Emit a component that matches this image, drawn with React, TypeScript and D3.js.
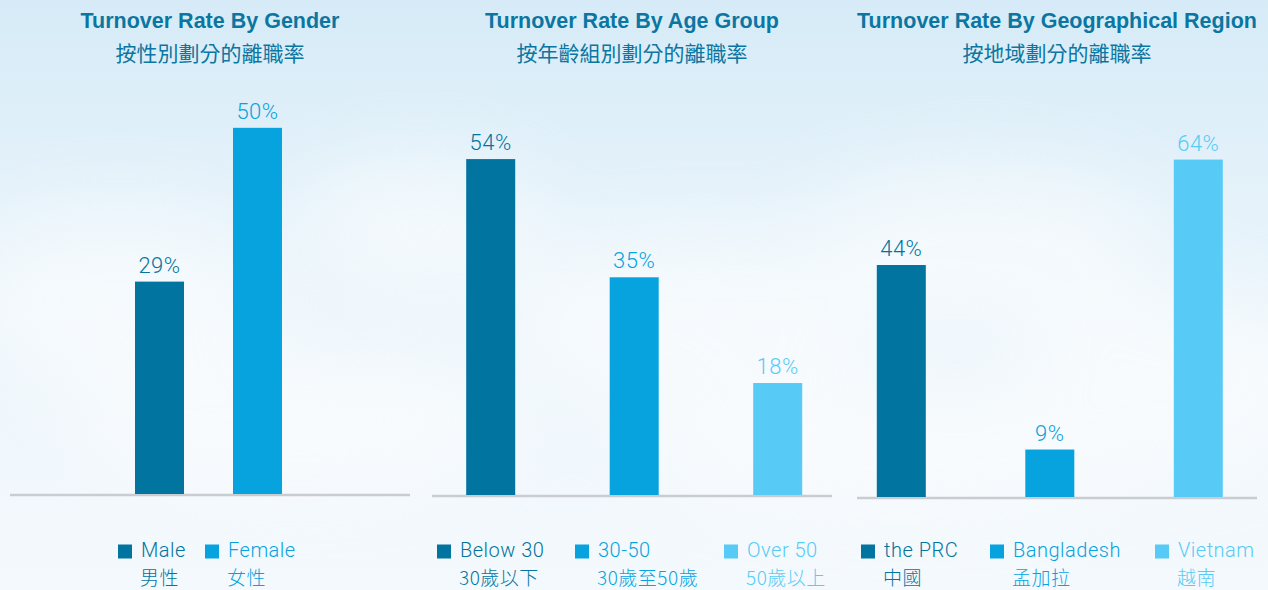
import React from "react";
import * as d3 from "d3";

const W = 1268;
const H = 590;

const COLORS = ["#0274a0", "#06a3df", "#57cbf6"];

const genderCats = ["Male", "Female"];
const genderCatsZh = ["男性", "女性"];
const genderValues = [29, 50];

const ageCats = ["Below 30", "30-50", "Over 50"];
const ageCatsZh = ["30歲以下", "30歲至50歲", "50歲以上"];
const ageValues = [54, 35, 18];

const regionCats = ["the PRC", "Bangladesh", "Vietnam"];
const regionCatsZh = ["中國", "孟加拉", "越南"];
const regionValues = [44, 9, 64];

const titlesEn = [
  "Turnover Rate By Gender",
  "Turnover Rate By Age Group",
  "Turnover Rate By Geographical Region",
];
const titlesZh = ["按性別劃分的離職率", "按年齡組別劃分的離職率", "按地域劃分的離職率"];

type Panel = {
  cats: string[];
  zh: string[];
  values: number[];
  x0: number;
  x1: number;
  baseline: number;
  yMax: number;
  pointRange: [number, number];
  legendSq: number[];
};

const panels: Panel[] = [
  {
    cats: genderCats,
    zh: genderCatsZh,
    values: genderValues,
    x0: 10,
    x1: 410,
    baseline: 494,
    yMax: 53.8,
    pointRange: [159.5, 257.5],
    legendSq: [118, 205],
  },
  {
    cats: ageCats,
    zh: ageCatsZh,
    values: ageValues,
    x0: 432,
    x1: 832,
    baseline: 495,
    yMax: 63.5,
    pointRange: [490.7, 777.7],
    legendSq: [437, 575, 724],
  },
  {
    cats: regionCats,
    zh: regionCatsZh,
    values: regionValues,
    x0: 857,
    x1: 1257,
    baseline: 497,
    yMax: 75.3,
    pointRange: [901.3, 1198.3],
    legendSq: [861, 990, 1155],
  },
];

const TOP = 100;
const BAR_W = 49;
const LATIN = "'Roboto', 'Liberation Sans', sans-serif";
const CJK = "'Noto Sans CJK TC', 'Noto Sans CJK SC', sans-serif";

const clouds = [
  { cx: 120, cy: 300, rx: 160, ry: 90 },
  { cx: 420, cy: 230, rx: 120, ry: 70 },
  { cx: 700, cy: 320, rx: 200, ry: 90 },
  { cx: 980, cy: 250, rx: 180, ry: 80 },
  { cx: 1180, cy: 380, rx: 160, ry: 90 },
  { cx: 300, cy: 420, rx: 220, ry: 70 },
  { cx: 900, cy: 450, rx: 260, ry: 60 },
];

export default function App() {
  return (
    <svg
      width={W}
      height={H}
      style={{ position: "absolute", left: 0, top: 0, display: "block" }}
    >
      <defs>
        <linearGradient id="sky" x1="0" y1="0" x2="0" y2="1">
          <stop offset="0" stopColor="#d6ebf7" />
          <stop offset="0.35" stopColor="#e5f2fa" />
          <stop offset="0.75" stopColor="#f0f7fc" />
          <stop offset="1" stopColor="#f4f9fd" />
        </linearGradient>
        <filter id="blur" x="-50%" y="-50%" width="200%" height="200%">
          <feGaussianBlur stdDeviation="40" />
        </filter>
      </defs>
      <rect width={W} height={H} fill="url(#sky)" />
      <g filter="url(#blur)" opacity={0.55}>
        {clouds.map((c, i) => (
          <ellipse key={i} cx={c.cx} cy={c.cy} rx={c.rx} ry={c.ry} fill="#ffffff" />
        ))}
      </g>
      {panels.map((p, pi) => {
        const x = d3
          .scalePoint<string>()
          .domain(p.cats)
          .range(p.pointRange)
          .padding(0);
        const y = d3.scaleLinear().domain([0, p.yMax]).range([p.baseline, TOP]);
        const cx = (p.x0 + p.x1) / 2;
        return (
          <g key={pi}>
            <text
              x={cx}
              y={27.5}
              textAnchor="middle"
              fontFamily="'Liberation Sans', Arial, sans-serif"
              fontWeight={700}
              fontSize={21.5}
              fill="#0b76a1"
            >
              {titlesEn[pi]}
            </text>
            <text
              x={cx}
              y={61}
              textAnchor="middle"
              fontFamily={CJK}
              fontSize={21}
              fill="#0b76a1"
            >
              {titlesZh[pi]}
            </text>
            <line
              x1={p.x0}
              x2={p.x1}
              y1={p.baseline + 1}
              y2={p.baseline + 1}
              stroke="#c9cdd1"
              strokeWidth={2.5}
            />
            {p.values.map((v, i) => {
              const c = x(p.cats[i])!;
              return (
                <g key={i}>
                  <rect
                    x={c - BAR_W / 2}
                    y={y(v)}
                    width={BAR_W}
                    height={p.baseline - y(v)}
                    fill={COLORS[i]}
                  />
                  <text
                    x={c}
                    y={y(v) - 9}
                    textAnchor="middle"
                    fontFamily={LATIN}
                    fontWeight={300}
                    fontSize={22}
                    letterSpacing={0.5}
                    fill={COLORS[i]}
                  >
                    {v}%
                  </text>
                </g>
              );
            })}
            {p.cats.map((cat, i) => (
              <g key={cat}>
                <rect
                  x={p.legendSq[i]}
                  y={544.5}
                  width={14}
                  height={14}
                  fill={COLORS[i]}
                />
                <text
                  x={p.legendSq[i] + 23}
                  y={557}
                  fontFamily={LATIN}
                  fontWeight={300}
                  fontSize={20}
                  letterSpacing={0.5}
                  fill={COLORS[i]}
                >
                  {cat}
                </text>
                <text
                  x={p.legendSq[i] + 22}
                  y={584.5}
                  fontFamily={CJK}
                  fontWeight={300}
                  fontSize={19}
                  letterSpacing={0.5}
                  fill={COLORS[i]}
                >
                  {p.zh[i]}
                </text>
              </g>
            ))}
          </g>
        );
      })}
    </svg>
  );
}
